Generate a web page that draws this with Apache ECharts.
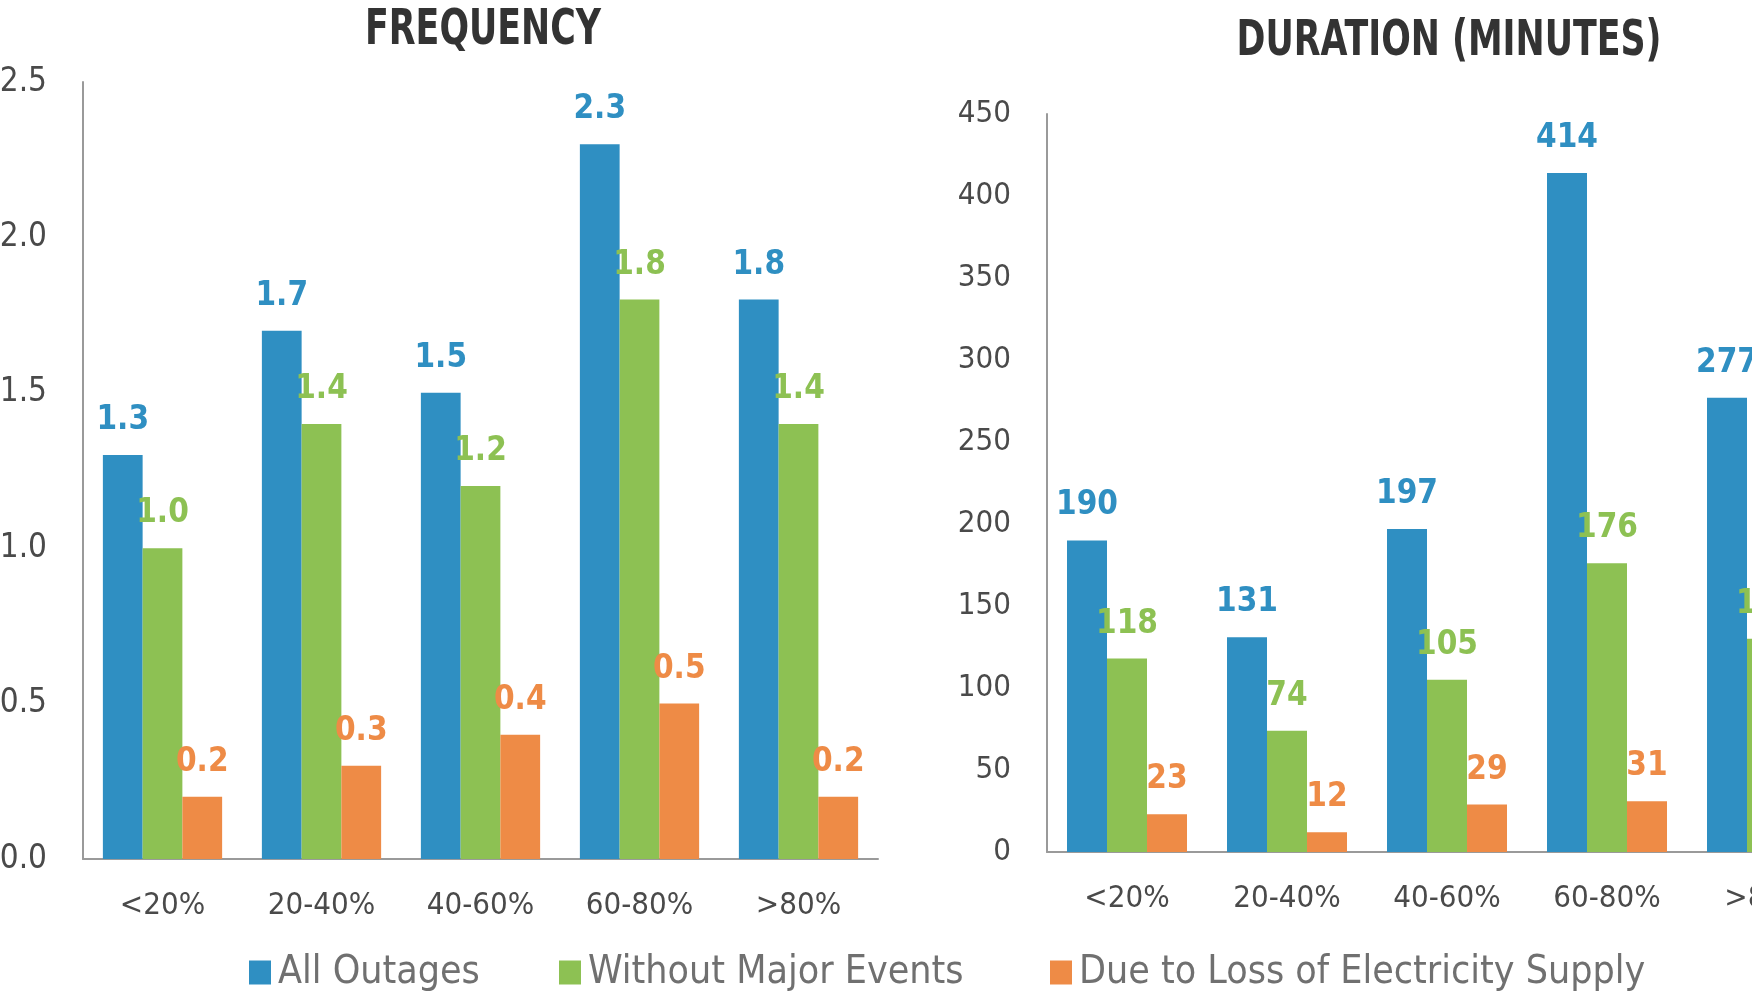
<!DOCTYPE html>
<html>
<head>
<meta charset="utf-8">
<title>Outage frequency and duration</title>
<script src="https://cdn.jsdelivr.net/npm/echarts@6/dist/echarts.min.js"></script>
<style>
  html, body { margin: 0; padding: 0; background: #ffffff; }
  #chart { width: 1752px; height: 994px; }
</style>
</head>
<body>
<div id="chart"></div>
<script>
// Outage bins
const categories = ['<20%', '20-40%', '40-60%', '60-80%', '>80%'];
const seriesNames = ['All Outages', 'Without Major Events', 'Due to Loss of Electricity Supply'];

// Frequency
const freqAll = [1.3, 1.7, 1.5, 2.3, 1.8];
const freqNoMajor = [1.0, 1.4, 1.2, 1.8, 1.4];
const freqSupply = [0.2, 0.3, 0.4, 0.5, 0.2];

// Duration (minutes)
const durAll = [190, 131, 197, 414, 277];
const durNoMajor = [118, 74, 105, 176, 130];
const durSupply = [23, 12, 29, 31, 22];

const freqTicks = ['0.0', '0.5', '1.0', '1.5', '2.0', '2.5'];
const durTicks = ['0', '50', '100', '150', '200', '250', '300', '350', '400', '450'];

const colors = ['#2F8FC2', '#8DC153', '#EE8B46'];
const FONT = '"Liberation Sans Narrow", "DejaVu Sans Condensed", "Arial Narrow", sans-serif';

const chart = echarts.init(document.getElementById('chart'));

function barSeries(name, data, idx, axisIdx, decimals) {
  return {
    name: name,
    type: 'bar',
    xAxisIndex: axisIdx,
    yAxisIndex: axisIdx,
    data: data,
    barGap: '0%',
    barCategoryGap: '25%',
    itemStyle: { color: colors[idx] },
    label: {
      show: true,
      position: 'top',
      distance: 18,
      color: colors[idx],
      fontFamily: FONT,
      fontWeight: 'bold',
      fontSize: 33,
      formatter: p => decimals ? Number(p.value).toFixed(decimals) : String(p.value)
    },
    emphasis: { disabled: true }
  };
}

function yAxisFor(gridIdx, ticks, step, size) {
  return {
    type: 'value',
    gridIndex: gridIdx,
    min: 0,
    max: Number(ticks[ticks.length - 1]),
    interval: step,
    axisLine: { show: true, lineStyle: { color: '#9a9a9a', width: 2 } },
    axisTick: { show: false },
    splitLine: { show: false },
    axisLabel: {
      margin: 36,
      color: '#4a4a4a',
      fontFamily: FONT,
      fontSize: size,
      formatter: v => ticks[Math.round(v / step)]
    }
  };
}

function xAxisFor(gridIdx) {
  return {
    type: 'category',
    gridIndex: gridIdx,
    data: categories,
    axisLine: { show: true, lineStyle: { color: '#9a9a9a', width: 2 } },
    axisTick: { show: false },
    axisLabel: {
      interval: 0,
      hideOverlap: false,
      margin: 31,
      color: '#4a4a4a',
      fontFamily: FONT,
      fontSize: 31
    }
  };
}

function legendFor(name, left) {
  return {
    data: [name],
    left: left,
    top: 948,
    itemWidth: 22,
    itemHeight: 24,
    icon: 'rect',
    selectedMode: false,
    textStyle: { color: '#707070', fontFamily: FONT, fontSize: 39, padding: [0, 0, 0, 2] }
  };
}

chart.setOption({
  animation: false,
  backgroundColor: '#ffffff',
  graphic: [
    {
      type: 'text', x: 483, y: 31, scaleX: 0.79,
      style: {
        text: 'FREQUENCY', fill: '#333333', fontFamily: FONT, fontWeight: 'bold',
        fontSize: 49, textAlign: 'center', textVerticalAlign: 'middle'
      }
    },
    {
      type: 'text', x: 1449, y: 42, scaleX: 0.79,
      style: {
        text: 'DURATION (MINUTES)', fill: '#333333', fontFamily: FONT, fontWeight: 'bold',
        fontSize: 49, textAlign: 'center', textVerticalAlign: 'middle'
      }
    }
  ],
  legend: [
    legendFor(seriesNames[0], 244),
    legendFor(seriesNames[1], 554),
    legendFor(seriesNames[2], 1045)
  ],
  grid: [
    { left: 83, top: 82, width: 795, height: 777, containLabel: false, outerBoundsMode: 'none' },
    { left: 1047, top: 114, width: 800, height: 738, containLabel: false, outerBoundsMode: 'none' }
  ],
  xAxis: [xAxisFor(0), xAxisFor(1)],
  yAxis: [yAxisFor(0, freqTicks, 0.5, 33), yAxisFor(1, durTicks, 50, 31)],
  series: [
    barSeries(seriesNames[0], freqAll, 0, 0, 1),
    barSeries(seriesNames[1], freqNoMajor, 1, 0, 1),
    barSeries(seriesNames[2], freqSupply, 2, 0, 1),
    barSeries(seriesNames[0], durAll, 0, 1, 0),
    barSeries(seriesNames[1], durNoMajor, 1, 1, 0),
    barSeries(seriesNames[2], durSupply, 2, 1, 0)
  ]
});
</script>
</body>
</html>
